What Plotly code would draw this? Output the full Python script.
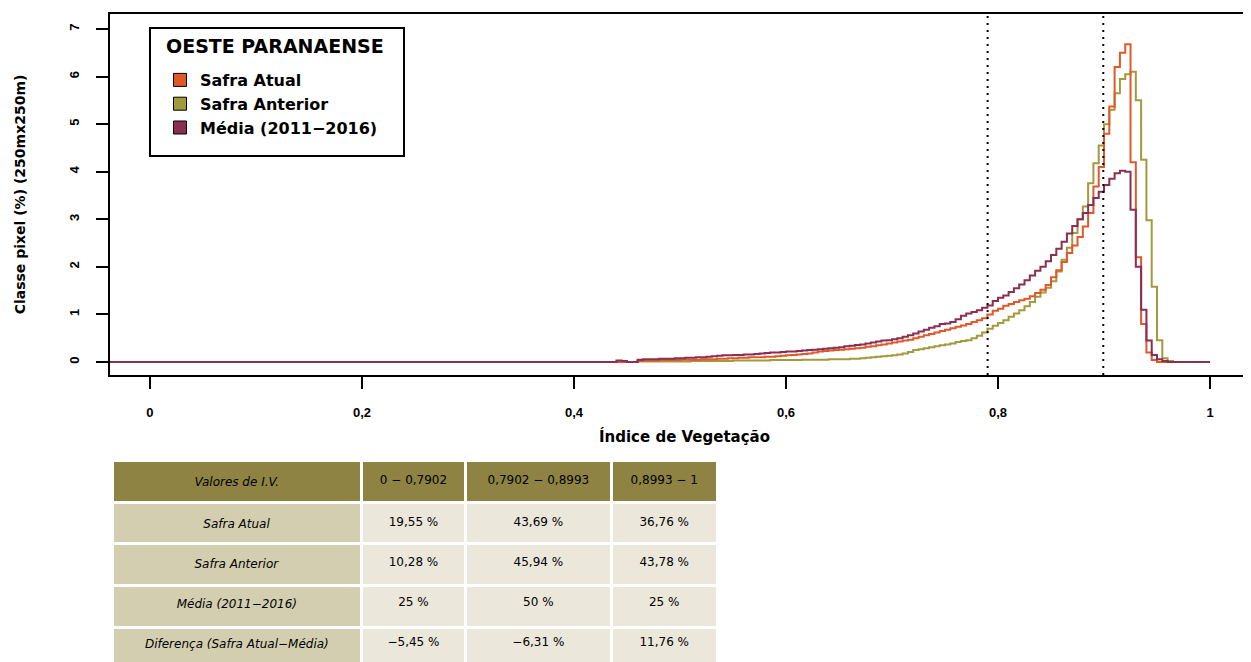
import numpy as np
import plotly.graph_objects as go

# limites das classes de IV
lim_iv = [0.7902, 0.8993]

# bordas esquerdas das classes (largura 0,005), de 0,44 a 0,995
ivi = list(np.round(np.arange(0.44, 1.0, 0.005), 3))

media = [
    0.03, 0.02, 0.00, 0.00, 0.05, 0.06, 0.06, 0.06, 0.07, 0.07,
    0.07, 0.08, 0.08, 0.09, 0.09, 0.10, 0.10, 0.11, 0.12, 0.13,
    0.14, 0.14, 0.15, 0.15, 0.16, 0.16, 0.17, 0.18, 0.19, 0.20,
    0.20, 0.21, 0.22, 0.22, 0.23, 0.24, 0.25, 0.26, 0.27, 0.28,
    0.29, 0.30, 0.31, 0.33, 0.34, 0.36, 0.37, 0.39, 0.41, 0.43,
    0.45, 0.46, 0.48, 0.50, 0.53, 0.56, 0.60, 0.64, 0.68, 0.72,
    0.75, 0.80, 0.81, 0.84, 0.90, 0.97, 1.02, 1.05, 1.09, 1.14,
    1.19, 1.28, 1.35, 1.40, 1.47, 1.55, 1.63, 1.72, 1.82, 1.92,
    2.00, 2.12, 2.25, 2.38, 2.53, 2.70, 2.86, 3.00, 3.13, 3.30,
    3.45, 3.58, 3.72, 3.85, 3.97, 4.02, 4.00, 3.20, 2.00, 1.10,
    0.45, 0.15, 0.06, 0.02, 0.00, 0.00, 0.00, 0.00, 0.00, 0.00,
    0.00, 0.00,
]

atual = [
    0.00, 0.00, 0.00, 0.00, 0.02, 0.03, 0.03, 0.03, 0.04, 0.04,
    0.04, 0.04, 0.05, 0.05, 0.05, 0.05, 0.06, 0.06, 0.06, 0.07,
    0.07, 0.08, 0.08, 0.09, 0.09, 0.10, 0.10, 0.10, 0.11, 0.11,
    0.12, 0.13, 0.14, 0.15, 0.16, 0.17, 0.18, 0.20, 0.22, 0.23,
    0.24, 0.25, 0.26, 0.27, 0.28, 0.29, 0.30, 0.32, 0.33, 0.35,
    0.37, 0.39, 0.41, 0.43, 0.45, 0.47, 0.50, 0.53, 0.56, 0.59,
    0.62, 0.65, 0.68, 0.71, 0.74, 0.77, 0.80, 0.84, 0.88, 0.92,
    1.00, 1.08, 1.12, 1.18, 1.22, 1.26, 1.30, 1.33, 1.38, 1.45,
    1.52, 1.62, 1.78, 1.93, 2.10, 2.29, 2.45, 2.63, 2.85, 3.13,
    3.69, 4.10, 4.80, 5.37, 6.20, 6.50, 6.68, 4.20, 2.20, 0.80,
    0.20, 0.04, 0.00, 0.00, 0.00, 0.00, 0.00, 0.00, 0.00, 0.00,
    0.00, 0.00,
]

anterior = [
    0.00, 0.00, 0.00, 0.00, 0.01, 0.01, 0.01, 0.01, 0.01, 0.01,
    0.01, 0.01, 0.01, 0.01, 0.02, 0.02, 0.02, 0.02, 0.02, 0.02,
    0.02, 0.02, 0.03, 0.03, 0.03, 0.03, 0.03, 0.03, 0.03, 0.04,
    0.04, 0.04, 0.04, 0.04, 0.04, 0.05, 0.05, 0.05, 0.05, 0.05,
    0.06, 0.06, 0.06, 0.06, 0.07, 0.07, 0.08, 0.09, 0.10, 0.11,
    0.12, 0.13, 0.14, 0.16, 0.18, 0.21, 0.25, 0.27, 0.29, 0.31,
    0.33, 0.35, 0.37, 0.39, 0.42, 0.44, 0.46, 0.50, 0.55, 0.62,
    0.70, 0.76, 0.82, 0.88, 0.95, 1.02, 1.09, 1.17, 1.26, 1.37,
    1.46, 1.56, 1.70, 1.90, 2.15, 2.40, 2.71, 3.00, 3.27, 3.76,
    4.18, 4.55, 5.00, 5.30, 5.65, 5.95, 6.05, 6.10, 5.50, 4.25,
    2.98, 1.58, 0.46, 0.08, 0.02, 0.00, 0.00, 0.00, 0.00, 0.00,
    0.00, 0.00,
]

series = ["Safra Atual", "Safra Anterior", "Média (2011\u22122016)"]
cores = {"Safra Atual": "#e0592b", "Safra Anterior": "#a29a3c", "Média (2011\u22122016)": "#8a2f52"}

# tabela
tab_header = ["<i>Valores de I.V.</i>", "0 \u2212 0,7902", "0,7902 \u2212 0,8993", "0,8993 \u2212 1"]
tab_linhas = ["<i>Safra Atual</i>", "<i>Safra Anterior</i>", "<i>Média (2011\u22122016)</i>",
              "<i>Diferença (Safra Atual\u2212Média)</i>"]
tab_c1 = ["19,55 %", "10,28 %", "25 %", "\u22125,45 %"]
tab_c2 = ["43,69 %", "45,94 %", "50 %", "\u22126,31 %"]
tab_c3 = ["36,76 %", "43,78 %", "25 %", "11,76 %"]

W, H = 1251, 662
OFF = 8  # margem padrão do <body>


def fx(px):
    return (px - OFF) / W


def fy(py):
    return 1 - (py - OFF) / H


arial = "Liberation Sans, Arial, sans-serif"
dejavu = "DejaVu Sans, sans-serif"

fig = go.Figure()

x_full = [-0.04] + ivi + [1.0]
for nome, vals in [("Safra Anterior", anterior), ("Safra Atual", atual), ("Média (2011\u22122016)", media)]:
    fig.add_trace(go.Scatter(
        x=x_full, y=[0] + vals + [0],
        mode="lines", line=dict(color=cores[nome], width=2, shape="hv"),
        showlegend=False, hoverinfo="skip"))

for nome in series:
    fig.add_trace(go.Scatter(
        x=[None], y=[None], mode="markers", name=nome,
        marker=dict(symbol="square", size=13, color=cores[nome], line=dict(color="black", width=1))))

for v in lim_iv:
    fig.add_shape(type="line", xref="x", yref="y domain", x0=v, x1=v, y0=0, y1=1,
                  line=dict(color="black", width=2, dash="2px,5px"))

# caixa da legenda e título
fig.add_shape(type="rect", xref="paper", yref="paper",
              x0=fx(150), x1=fx(404), y0=fy(156), y1=fy(28),
              line=dict(color="black", width=2), fillcolor="white", layer="above")
fig.add_annotation(text="OESTE PARANAENSE", xref="paper", yref="paper",
                   x=fx(164), y=fy(46), xanchor="left", yanchor="middle", showarrow=False,
                   font=dict(family=dejavu, size=19, weight="bold"))

# tabela: fundo das células
largura_cols = [246, 102, 144, 104]
vazio = [""] * 4
fig.add_trace(go.Table(
    domain=dict(x=[fx(112), fx(718)], y=[0, fy(460)]),
    columnwidth=largura_cols,
    header=dict(values=vazio, fill_color="#8e8342", height=42,
                line=dict(color="white", width=3)),
    cells=dict(values=[vazio, vazio, vazio, vazio],
               fill_color=[["#d4ceb0"] * 4, ["#ebe7da"] * 4, ["#ebe7da"] * 4, ["#ebe7da"] * 4],
               line=dict(color="white", width=3), height=41.9),
))
# tabela: textos (um pouco mais abaixo, para ficarem centrados nas células)
transp = "rgba(0,0,0,0)"
fig.add_trace(go.Table(
    domain=dict(x=[fx(112), fx(718)], y=[0, fy(467)]),
    columnwidth=largura_cols,
    header=dict(values=tab_header, fill_color=transp, height=42,
                line=dict(color=transp, width=0),
                font=dict(family=dejavu, size=12, color="black", weight="normal"), align="center"),
    cells=dict(values=[tab_linhas, tab_c1, tab_c2, tab_c3], fill_color=transp,
               line=dict(color=transp, width=0), height=40.1,
               font=dict(family=dejavu, size=12, color="black", weight="normal"), align="center"),
))

fig.update_layout(
    width=W, height=H,
    margin=dict(l=0, r=0, t=0, b=0, autoexpand=False),
    paper_bgcolor="white", plot_bgcolor="white",
    separators=",.",
    font=dict(family=arial, size=13, color="black", weight="bold"),
    xaxis=dict(domain=[fx(110), 1], range=[-0.0377, 1.0462],
               tickvals=[0, 0.2, 0.4, 0.6, 0.8, 1], tickformat=".1~f",
               ticks="outside", ticklen=12, tickwidth=2, tickcolor="black",
               ticklabelstandoff=12,
               showline=True, linecolor="black", linewidth=2, mirror=True,
               showgrid=False, zeroline=False,
               title=dict(text="Índice de Vegetação", standoff=13,
                          font=dict(family=dejavu, size=15, weight="bold"))),
    yaxis=dict(domain=[fy(375), fy(14)], range=[-0.273, 7.315],
               tickvals=[0, 1, 2, 3, 4, 5, 6, 7], tickangle=-90,
               ticks="outside", ticklen=12, tickwidth=2, tickcolor="black",
               ticklabelstandoff=12,
               showline=True, linecolor="black", linewidth=2, mirror=True,
               showgrid=False, zeroline=False,
               title=dict(text="Classe pixel (%) (250mx250m)", standoff=38,
                          font=dict(family=dejavu, size=14, weight="bold"))),
    legend=dict(x=fx(160), y=fy(63), xanchor="left", yanchor="top",
                bgcolor="rgba(0,0,0,0)", borderwidth=0, tracegroupgap=0,
                font=dict(family=dejavu, size=16, weight="bold"), itemwidth=30),
)

fig.write_html("out.html")
